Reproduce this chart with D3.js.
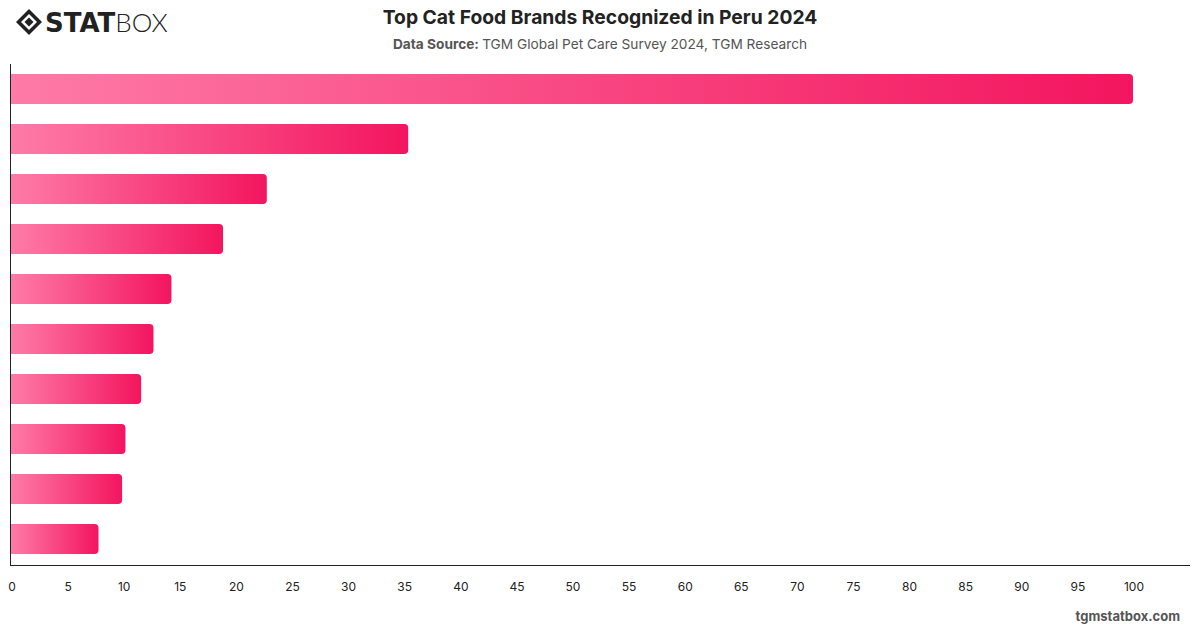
<!DOCTYPE html>
<html>
<head>
<meta charset="utf-8">
<script src="https://cdn.jsdelivr.net/npm/d3@7"></script>
<style>
	body { margin: 0; background: #fff; }
	svg { display: block; font-family: Inter, "Noto Sans", sans-serif; }
</style>
</head>
<body>
<script>
// brands are not labelled in the source chart, only ranked
var brands = ["b1", "b2", "b3", "b4", "b5", "b6", "b7", "b8", "b9", "b10"];
var values = [100, 35.4, 22.8, 18.9, 14.3, 12.7, 11.6, 10.2, 9.9, 7.8];
var ticks = d3.range(0, 101, 5);

var W = 1200, H = 628;
var svg = d3.select("body").append("svg").attr("width", W).attr("height", H);

var x = d3.scaleLinear().domain([0, 100]).range([11, 1133]);
var y = d3.scaleBand().domain(brands).range([64, 564]).paddingInner(0.4).paddingOuter(0.2);

var defs = svg.append("defs");
var grad = defs.append("linearGradient").attr("id", "barGrad")
	.attr("x1", "0%").attr("x2", "100%").attr("y1", "0%").attr("y2", "0%");
grad.append("stop").attr("offset", "0%").attr("stop-color", "#fe7ba7");
grad.append("stop").attr("offset", "100%").attr("stop-color", "#f3155f");

// bars: square on the left, rounded on the right
function barPath(x0, x1, y0, h, r) {
	r = Math.min(r, (x1 - x0) / 2);
	return "M" + x0 + "," + y0 +
		"H" + (x1 - r) + "Q" + x1 + "," + y0 + " " + x1 + "," + (y0 + r) +
		"V" + (y0 + h - r) + "Q" + x1 + "," + (y0 + h) + " " + (x1 - r) + "," + (y0 + h) +
		"H" + x0 + "Z";
}

svg.append("g").selectAll("path")
	.data(values)
	.join("path")
	.attr("d", function (d, i) { return barPath(x(0), x(d), y(brands[i]), y.bandwidth(), 4); })
	.attr("fill", "url(#barGrad)");

// axes
svg.append("line").attr("x1", 10.5).attr("x2", 10.5).attr("y1", 64).attr("y2", 565.5)
	.attr("stroke", "#222").attr("stroke-width", 1);
svg.append("line").attr("x1", 10).attr("x2", 1190).attr("y1", 565.5).attr("y2", 565.5)
	.attr("stroke", "#222").attr("stroke-width", 1);

var xAxis = svg.append("g").attr("transform", "translate(0.5,565)")
	.call(d3.axisBottom(x).tickValues(ticks).tickSize(0).tickPadding(17));
xAxis.select(".domain").remove();
xAxis.selectAll("text").attr("font-size", 12).attr("fill", "#222")
	.attr("font-family", "Inter, sans-serif");

// title
svg.append("text").attr("x", 600).attr("y", 24).attr("text-anchor", "middle")
	.attr("font-size", 19.3).attr("font-weight", 700).attr("fill", "#222")
	.text("Top Cat Food Brands Recognized in Peru 2024");
var sub = svg.append("text").attr("x", 600).attr("y", 49).attr("text-anchor", "middle")
	.attr("font-size", 13.7).attr("fill", "#555");
sub.append("tspan").attr("font-weight", 700).text("Data Source: ");
sub.append("tspan").text("TGM Global Pet Care Survey 2024, TGM Research");

// logo
var logo = svg.append("g").attr("transform", "translate(16,9)");
logo.append("path").attr("d", "M13,0 L26,13 L13,26 L0,13 Z").attr("fill", "#222");
logo.append("path").attr("d", "M13,5 L21,13 L13,21 L5,13 Z").attr("fill", "#fff");
logo.append("path").attr("d", "M13,8.5 L17.5,13 L13,17.5 L8.5,13 Z").attr("fill", "#222");
var lt = logo.append("text").attr("x", 29).attr("y", 23).attr("font-size", 26).attr("fill", "#222")
	.attr("font-family", "'DejaVu Sans', sans-serif");
lt.append("tspan").attr("font-weight", 900).attr("letter-spacing", 0).text("STAT");
lt.append("tspan").attr("font-weight", 300).attr("font-family", "Lato, sans-serif").text("BOX");

// footer
svg.append("text").attr("x", 1180).attr("y", 621).attr("text-anchor", "end")
	.attr("font-size", 13).attr("font-weight", 700).attr("fill", "#555")
	.text("tgmstatbox.com");
</script>
</body>
</html>
